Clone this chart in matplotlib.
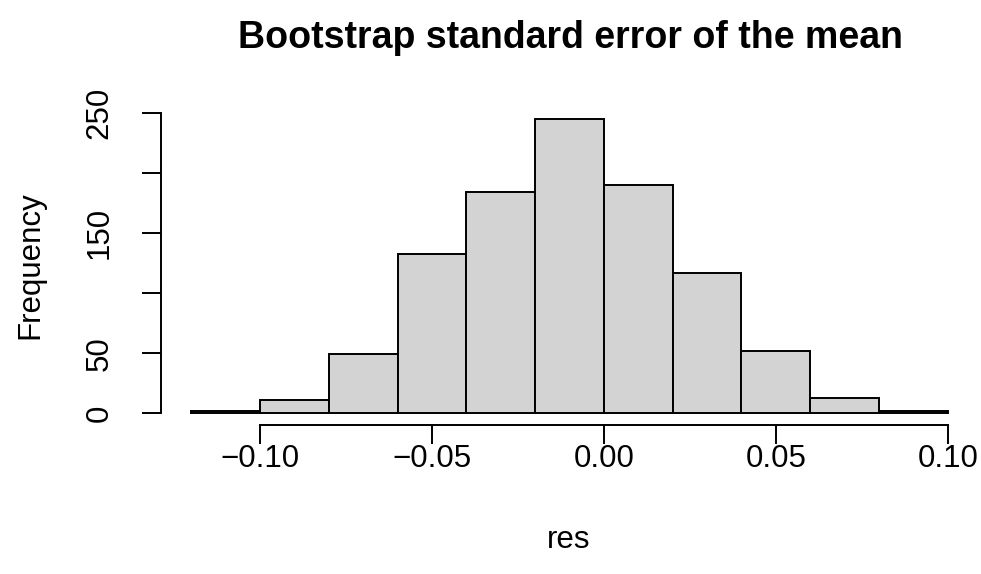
import numpy as np
import matplotlib.pyplot as plt

plt.rcParams['font.family'] = ['Liberation Sans', 'DejaVu Sans']

# bootstrap means of the residuals, binned in steps of 0.02
bin_edges = [-0.12, -0.10, -0.08, -0.06, -0.04, -0.02, 0.00, 0.02, 0.04, 0.06, 0.08, 0.10]
counts = [2, 11, 49, 133, 184, 245, 190, 117, 52, 13, 2]
x_ticks = [-0.10, -0.05, 0.00, 0.05, 0.10]
x_tick_labels = ['\u22120.10', '\u22120.05', '0.00', '0.05', '0.10']
y_ticks = [0, 50, 100, 150, 200, 250]
y_tick_labels = ['0', '50', '', '150', '', '250']

W, H = 981, 574
fig = plt.figure(figsize=(W / 100, H / 100), dpi=100)
ax = fig.add_axes([160.9 / W, 1 - 425 / H, (978 - 160.9) / W, (425 - 107.5) / H])

left = np.array(bin_edges[:-1])
widths = np.diff(bin_edges)
ax.bar(left, counts, width=widths, align='edge', color='#D3D3D3',
       edgecolor='black', linewidth=1.4)

# R-style extended limits (4% padding)
xr = bin_edges[-1] - bin_edges[0]
ax.set_xlim(bin_edges[0] - 0.04 * xr, bin_edges[-1] + 0.04 * xr)
ymax = max(counts)
ax.set_ylim(-0.04 * ymax, 1.04 * ymax)

for s in ['top', 'right']:
    ax.spines[s].set_visible(False)
ax.spines['bottom'].set_bounds(x_ticks[0], x_ticks[-1])
ax.spines['left'].set_bounds(y_ticks[0], y_ticks[-1])
ax.spines['bottom'].set_linewidth(1.4)
ax.spines['left'].set_linewidth(1.4)

fs = 22.5
ax.set_xticks(x_ticks)
ax.set_xticklabels(x_tick_labels, fontsize=fs)
ax.set_yticks(y_ticks)
ax.set_yticklabels(y_tick_labels, fontsize=fs, rotation=90, va='center')
ax.tick_params(axis='both', direction='out', length=13.5, width=1.4, color='black')
ax.tick_params(axis='x', pad=0)
ax.tick_params(axis='y', pad=20)

fig.text(571 / W, 1 - 38 / H, 'Bootstrap standard error of the mean',
         ha='center', va='center', fontsize=27, fontweight='bold')
fig.text(569 / W, 1 - 540 / H, 'res', ha='center', va='center', fontsize=fs)
fig.text(30 / W, 1 - 265 / H, 'Frequency', ha='center', va='center',
         fontsize=fs, rotation=90)

fig.savefig('out.png', dpi=100)
